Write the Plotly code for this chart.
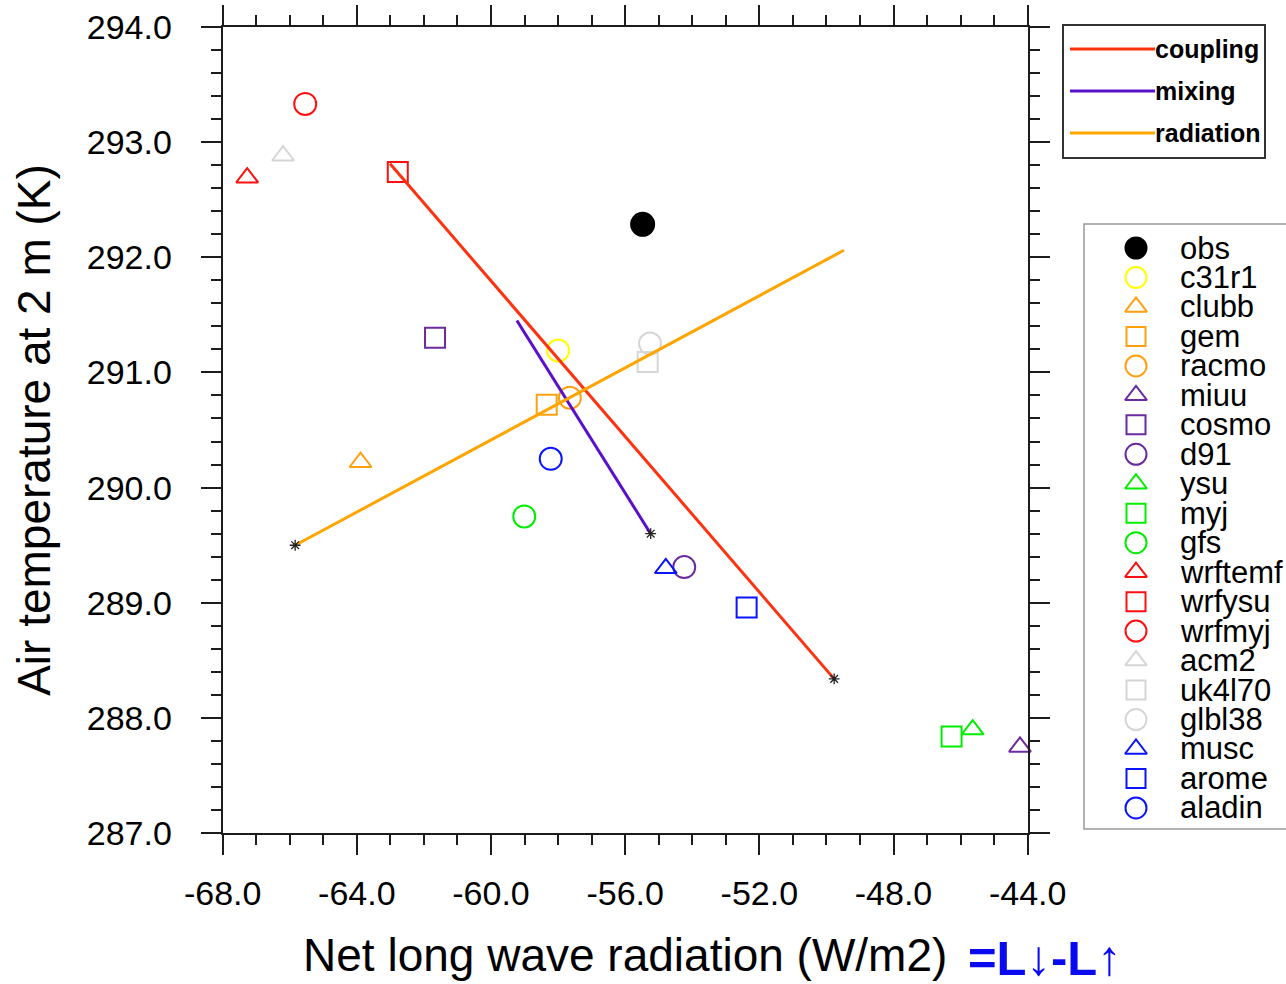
import plotly.graph_objects as go

# ---------------- data ----------------
models = ["obs", "c31r1", "clubb", "gem", "racmo", "miuu", "cosmo", "d91", "ysu", "myj",
          "gfs", "wrftemf", "wrfysu", "wrfmyj", "acm2", "uk4l70", "glbl38", "musc", "arome", "aladin"]
net_lw = [-55.48, -58.00, -63.89, -58.34, -57.65, -44.23, -61.67, -54.24, -45.64, -46.27,
          -59.01, -67.27, -62.78, -65.54, -66.20, -55.33, -55.26, -54.79, -52.38, -58.22]
t2m = [292.285, 291.19, 290.22, 290.72, 290.78, 287.75, 291.30, 289.31, 287.90, 287.84,
       289.75, 292.69, 292.74, 293.33, 292.88, 291.09, 291.25, 289.30, 288.96, 290.25]
symbols = ["circle", "circle-open", "triangle-up-open", "square-open", "circle-open",
           "triangle-up-open", "square-open", "circle-open", "triangle-up-open", "square-open",
           "circle-open", "triangle-up-open", "square-open", "circle-open", "triangle-up-open",
           "square-open", "circle-open", "triangle-up-open", "square-open", "circle-open"]
colors = ["#000000", "#FFFF00", "#FFA010", "#FFA010", "#FFA010", "#6B2A9E", "#6B2A9E", "#6B2A9E",
          "#00EE00", "#00EE00", "#00EE00", "#FF1010", "#FF1010", "#FF1010", "#D6D6D6", "#D6D6D6",
          "#D6D6D6", "#0A14FF", "#0A14FF", "#0A14FF"]

line_names = ["coupling", "mixing", "radiation"]
line_colors = ["#FF3210", "#5A0FCC", "#FFA500"]
line_x = [[-63.01, -49.77], [-59.23, -55.24], [-65.84, -49.48]]
line_y = [[292.81, 288.34], [291.45, 289.60], [289.50, 292.06]]
star_end = [1, 1, 0]  # which end of each line carries the asterisk

x_ticks = [-68, -64, -60, -56, -52, -48, -44]
x_tick_labels = ["-68.0", "-64.0", "-60.0", "-56.0", "-52.0", "-48.0", "-44.0"]
y_ticks = [287, 288, 289, 290, 291, 292, 293, 294]
y_tick_labels = ["287.0", "288.0", "289.0", "290.0", "291.0", "292.0", "293.0", "294.0"]

FONT = "Liberation Sans, Arial, Helvetica, sans-serif"
AX = "#1c1c1c"
W, H = 1286, 984


def msize(sym, legend=False):
    if sym == "circle":
        return 21 if legend else 23
    if sym.startswith("triangle"):
        return 19
    if sym.startswith("square"):
        return 19 if legend else 20
    return 21 if legend else 22


fig = go.Figure()

# model points
for name, xv, yv, sym, col in zip(models, net_lw, t2m, symbols, colors):
    fig.add_trace(go.Scatter(x=[xv], y=[yv], mode="markers", name=name, showlegend=False,
                             marker=dict(symbol=sym, size=msize(sym), color=col,
                                         line=dict(color=col, width=2)),
                             xaxis="x", yaxis="y", cliponaxis=False))

# lines with an asterisk at one end
for nm, xs, ys, col, se in zip(line_names, line_x, line_y, line_colors, star_end):
    fig.add_trace(go.Scatter(x=xs, y=ys, mode="lines", name=nm, showlegend=False,
                             line=dict(color=col, width=3), xaxis="x", yaxis="y"))
    fig.add_trace(go.Scatter(x=[xs[se]], y=[ys[se]], mode="markers", showlegend=False,
                             marker=dict(symbol="asterisk-open", size=9, color="#222222",
                                         line=dict(color="#222222", width=1.3)),
                             xaxis="x", yaxis="y"))

# ---------- legend 1 (lines), drawn in its own small axes ----------
L1 = dict(x0=1063, x1=1265, y0=25, y1=158)
l1_rows = [24, 66, 108]
for nm, col, ry in zip(line_names, line_colors, l1_rows):
    fig.add_trace(go.Scatter(x=[7, 92], y=[ry, ry], mode="lines", showlegend=False,
                             line=dict(color=col, width=3), xaxis="x2", yaxis="y2"))
    fig.add_annotation(x=92, y=ry, xref="x2", yref="y2", text=nm, showarrow=False,
                       xanchor="left", yanchor="middle", xshift=-2,
                       font=dict(family=FONT, size=25, color="black", weight="bold"))

# ---------- legend 2 (models) ----------
L2 = dict(x0=1084, x1=1300, y0=224, y1=829)
row0, gap = 24, 29.47
for i, (name, sym, col) in enumerate(zip(models, symbols, colors)):
    ry = row0 + i * gap
    fig.add_trace(go.Scatter(x=[52], y=[ry], mode="markers", showlegend=False,
                             marker=dict(symbol=sym, size=msize(sym, True),
                                         color=col, line=dict(color=col, width=2)),
                             xaxis="x3", yaxis="y3", cliponaxis=False))
    fig.add_annotation(x=94, y=ry, xref="x3", yref="y3", text=name, showarrow=False,
                       xanchor="left", yanchor="middle",
                       font=dict(family=FONT, size=31, color="black"))

# legend boxes
fig.add_shape(type="rect", xref="paper", yref="paper",
              x0=L1["x0"] / W, x1=L1["x1"] / W, y0=1 - L1["y1"] / H, y1=1 - L1["y0"] / H,
              line=dict(color="#333333", width=2), layer="below")
fig.add_shape(type="rect", xref="paper", yref="paper",
              x0=L2["x0"] / W, x1=L2["x1"] / W, y0=1 - L2["y1"] / H, y1=1 - L2["y0"] / H,
              line=dict(color="#999999", width=1.5), layer="below")

# blue annotation after the x-axis title
fig.add_annotation(x=966 / W, y=1 - 958 / H, xref="paper", yref="paper", text="=L↓-L↑",
                   showarrow=False, xanchor="left", yanchor="middle",
                   font=dict(family=FONT, size=49, color="#0A0AF0", weight="bold"))

px0, px1, py0, py1 = 222.7, 1027.7, 26.7, 833.3
hidden = dict(visible=False, showgrid=False, zeroline=False, fixedrange=True, automargin=False)

fig.update_layout(
    width=W, height=H, margin=dict(l=0, r=0, t=0, b=0, pad=0, autoexpand=False),
    paper_bgcolor="white", plot_bgcolor="white",
    font=dict(family=FONT, color="black"),
    showlegend=False,
    xaxis=dict(domain=[px0 / W, px1 / W], range=[-68, -44], automargin=False,
               tickmode="array", tickvals=x_ticks, ticktext=x_tick_labels,
               ticks="outside", ticklen=20, tickwidth=2, tickcolor=AX,
               showline=True, linewidth=2, linecolor=AX, mirror="ticks",
               minor=dict(tickmode="linear", tick0=-68, dtick=1, ticks="outside",
                          ticklen=10, tickwidth=1.5, tickcolor=AX, showgrid=False),
               showgrid=False, zeroline=False, ticklabelstandoff=9,
               tickfont=dict(size=34, family=FONT, color="black"),
               title=dict(text="Net long wave radiation (W/m2)", standoff=28,
                          font=dict(size=46, family=FONT, color="black"))),
    yaxis=dict(domain=[1 - py1 / H, 1 - py0 / H], range=[287, 294], automargin=False,
               tickmode="array", tickvals=y_ticks, ticktext=y_tick_labels,
               ticks="outside", ticklen=20, tickwidth=2, tickcolor=AX,
               showline=True, linewidth=2, linecolor=AX, mirror="ticks",
               minor=dict(tickmode="linear", tick0=287, dtick=0.2, ticks="outside",
                          ticklen=10, tickwidth=1.5, tickcolor=AX, showgrid=False),
               showgrid=False, zeroline=False, ticklabelstandoff=22,
               tickfont=dict(size=34, family=FONT, color="black"),
               title=dict(text="Air temperature at 2 m (K)", standoff=22,
                          font=dict(size=46, family=FONT, color="black"))),
    xaxis2=dict(domain=[L1["x0"] / W, L1["x1"] / W], range=[0, L1["x1"] - L1["x0"]], anchor="y2", **hidden),
    yaxis2=dict(domain=[1 - L1["y1"] / H, 1 - L1["y0"] / H], range=[L1["y1"] - L1["y0"], 0], anchor="x2", **hidden),
    xaxis3=dict(domain=[L2["x0"] / W, 1.0], range=[0, W - L2["x0"]], anchor="y3", **hidden),
    yaxis3=dict(domain=[1 - L2["y1"] / H, 1 - L2["y0"] / H], range=[L2["y1"] - L2["y0"], 0], anchor="x3", **hidden),
)

fig.write_html("out.html")
